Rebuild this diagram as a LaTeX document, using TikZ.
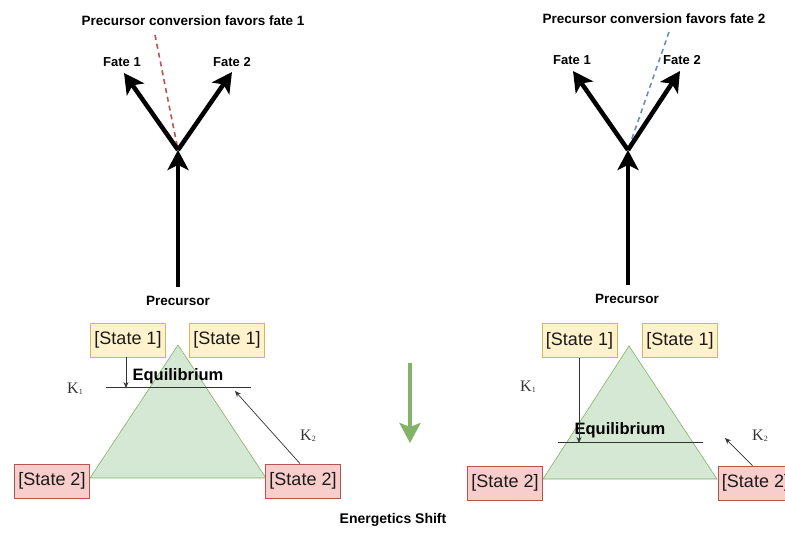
\documentclass[tikz,border=0pt]{standalone}
\usepackage{fontspec}
\setmainfont{Liberation Sans}
\newfontfamily\kfont{Liberation Serif}
\usetikzlibrary{arrows.meta}

\definecolor{yfill}{HTML}{FFF2CC}
\definecolor{ystroke}{HTML}{D6B656}
\definecolor{rfill}{HTML}{F8CECC}
\definecolor{rstroke}{HTML}{B85450}
\definecolor{gfill}{HTML}{D5E8D4}
\definecolor{gstroke}{HTML}{82B366}
\definecolor{bdash}{HTML}{6C8EBF}
\definecolor{rdash}{HTML}{B85450}
\definecolor{thin}{HTML}{333333}
\definecolor{boxtext}{HTML}{1A1A1A}

\newcommand{\Klab}[1]{{\kfont\fontsize{16}{18}\selectfont K\fontsize{8}{9}\selectfont\raisebox{-1pt}{#1}}}

\begin{document}
\begin{tikzpicture}[x=1pt,y=-1pt,
  title/.style={font=\fontsize{13.5}{16}\selectfont\bfseries, inner sep=0pt},
  fate/.style={font=\fontsize{13}{15}\selectfont\bfseries, inner sep=0pt},
  bigarrow/.style={line width=4.5pt, -{Stealth[length=20pt,width=21pt,inset=5pt]}},
  stateone/.style={draw=ystroke, fill=yfill, line width=0.8pt, minimum width=75pt,
    minimum height=34pt, inner sep=0pt, text=boxtext, font=\fontsize{18}{20}\selectfont},
  statetwo/.style={draw=rstroke, fill=rfill, line width=0.8pt, minimum width=75pt,
    minimum height=34pt, inner sep=0pt, text=boxtext, font=\fontsize{18}{20}\selectfont},
  tri/.style={draw=gstroke, fill=gfill, line width=0.6pt},
  eqline/.style={draw=thin, line width=0.8pt},
  eqlabel/.style={font=\fontsize{16.5}{18}\selectfont\bfseries, inner sep=0pt},
  thinarrow/.style={draw=thin, line width=0.7pt, -{Stealth[length=6pt,width=5pt]}},
  dashline/.style={line width=1.6pt, dash pattern=on 5pt off 4pt},
  klabel/.style={inner sep=0pt, text=thin}
]
\useasboundingbox (0,0) rectangle (785,535);

% ---------- left: branching towards the two fates ----------
\node[title] (tl) at (193,21) {Precursor conversion favors fate 1};
\node[fate] (f1l) at (122,62) {Fate 1};
\node[fate] (f2l) at (232,62) {Fate 2};
\node[title] (pl) at (178,301) {Precursor};
\coordinate (jl) at (178,150);
\coordinate (t1l) at (124,73);
\coordinate (t2l) at (232,72);
\coordinate (sl) at (178,287);
\coordinate (dl) at (155,35);
\draw[dashline, draw=rdash] (dl) -- (jl);
\draw[bigarrow] (sl) -- (jl);
\draw[bigarrow] (jl) -- (t1l);
\draw[bigarrow] (jl) -- (t2l);

% ---------- right: branching towards the two fates ----------
\node[title] (tr) at (654,19) {Precursor conversion favors fate 2};
\node[fate] (f1r) at (572,60) {Fate 1};
\node[fate] (f2r) at (682,60) {Fate 2};
\node[title] (pr) at (627,299) {Precursor};
\coordinate (jr) at (628,150);
\coordinate (t1r) at (573,71);
\coordinate (t2r) at (680,71);
\coordinate (sr) at (628,285);
\coordinate (dr) at (669,32);
\draw[dashline, draw=bdash] (dr) -- (jr);
\draw[bigarrow] (sr) -- (jr);
\draw[bigarrow] (jr) -- (t1r);
\draw[bigarrow] (jr) -- (t2r);

% ---------- left: energy landscape ----------
\draw[tri] (178,345) -- (90,478) -- (266,478) -- cycle;
\node[stateone] (s1a) at (128,340) {[State 1]};
\node[stateone] (s1b) at (227,340) {[State 1]};
\node[statetwo] (s2a) at (52,481) {[State 2]};
\node[statetwo] (s2b) at (303,481) {[State 2]};
\coordinate (ela) at (106,387);
\coordinate (elb) at (251,387);
\draw[eqline] (ela) -- (elb);
\node[eqlabel] (eql) at (178,376) {Equilibrium};
\coordinate (k1end) at (126,388);
\draw[thinarrow] (s1a.south -| k1end) -- (k1end);
\coordinate (k2end) at (235,391);
\draw[thinarrow] ([xshift=-3pt]s2b.north) -- (k2end);
\node[klabel] (k1l) at (75,389) {\Klab{1}};
\node[klabel] (k2l) at (308,436) {\Klab{2}};

% ---------- shift between the two landscapes ----------
\coordinate (gs) at (410,363);
\coordinate (ge) at (410,443);
\draw[line width=4.5pt, draw=gstroke, -{Stealth[length=20pt,width=21pt,inset=4pt]}] (gs) -- (ge);
\node[title, font=\fontsize{14}{16}\selectfont\bfseries] (shift) at (393,520) {Energetics Shift};

% ---------- right: energy landscape ----------
\draw[tri] (629,346) -- (543,479) -- (717,479) -- cycle;
\node[stateone] (s1c) at (579.5,340.5) {[State 1]};
\node[stateone] (s1d) at (680,340.5) {[State 1]};
\node[statetwo] (s2c) at (505,483) {[State 2]};
\node[statetwo] (s2d) at (755.5,483) {[State 2]};
\coordinate (era) at (558,442);
\coordinate (erb) at (703,442);
\draw[eqline] (era) -- (erb);
\node[eqlabel] (eqr) at (620,430) {Equilibrium};
\coordinate (k1rend) at (579,443);
\draw[thinarrow] (s1c.south -| k1rend) -- (k1rend);
\coordinate (k2rend) at (725,438);
\draw[thinarrow] ([xshift=-3pt]s2d.north) -- (k2rend);
\node[klabel] (k1r) at (528,387) {\Klab{1}};
\node[klabel] (k2r) at (760,436) {\Klab{2}};
\end{tikzpicture}
\end{document}
